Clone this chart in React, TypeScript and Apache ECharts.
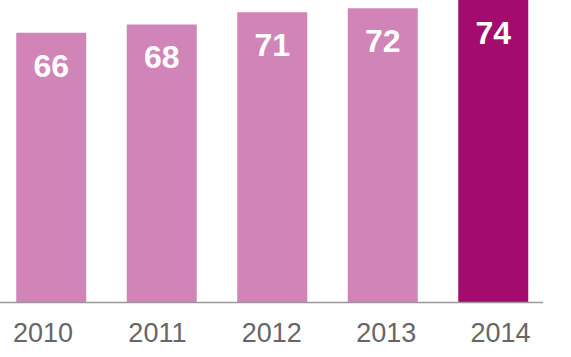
import React, { useEffect, useRef } from "react";
import * as echarts from "echarts";

const categories = ["2010", "2011", "2012", "2013", "2014"];
const values = [66, 68, 71, 72, 74];
const highlightIndex = 4;

export default function App() {
  const ref = useRef<HTMLDivElement>(null);
  useEffect(() => {
    if (!ref.current) return;
    const chart = echarts.init(ref.current, undefined, { renderer: "svg" });
    chart.setOption({
      animation: false,
      grid: [
        { left: 16, right: 42.5, top: 0, bottom: 55, containLabel: false },
        { left: 5.8, right: 33.2, top: 0, bottom: 55, containLabel: false },
      ],
      xAxis: [
        {
          type: "category",
          gridIndex: 0,
          data: categories,
          axisLine: { show: false },
          axisTick: { show: false },
          axisLabel: { show: false },
        },
        {
          type: "category",
          gridIndex: 1,
          data: categories,
          axisLine: { show: false },
          axisTick: { show: false },
          axisLabel: {
            color: "#666666",
            fontSize: 27,
            fontFamily: "Liberation Sans, Arial, sans-serif",
            margin: 17,
          },
        },
      ],
      yAxis: [
        { type: "value", gridIndex: 0, min: 0, max: 74, show: false },
        { type: "value", gridIndex: 1, min: 0, max: 74, show: false },
      ],
      graphic: [
        {
          type: "line",
          shape: { x1: 20, y1: 302.5, x2: 563, y2: 302.5 },
          style: { stroke: "#999999", lineWidth: 1.5 },
          z: 10,
        },
      ],
      series: [
        {
          type: "bar",
          xAxisIndex: 0,
          yAxisIndex: 0,
          barWidth: 70,
          data: values.map((v, i) => ({
            value: v,
            itemStyle: { color: i === highlightIndex ? "#A30B6E" : "#D184B7" },
          })),
          label: {
            show: true,
            position: "insideTop",
            distance: 17,
            color: "#ffffff",
            fontSize: 32,
            fontWeight: "bold",
            fontFamily: "Liberation Sans, Arial, sans-serif",
          },
        },
      ],
    });
    return () => chart.dispose();
  }, []);
  return (
    <div style={{ position: "absolute", left: 0, top: 0, width: 571, height: 357, overflow: "hidden" }}>
      <div ref={ref} style={{ width: 611, height: 357, position: "absolute", left: -20, top: 0 }} />
    </div>
  );
}
